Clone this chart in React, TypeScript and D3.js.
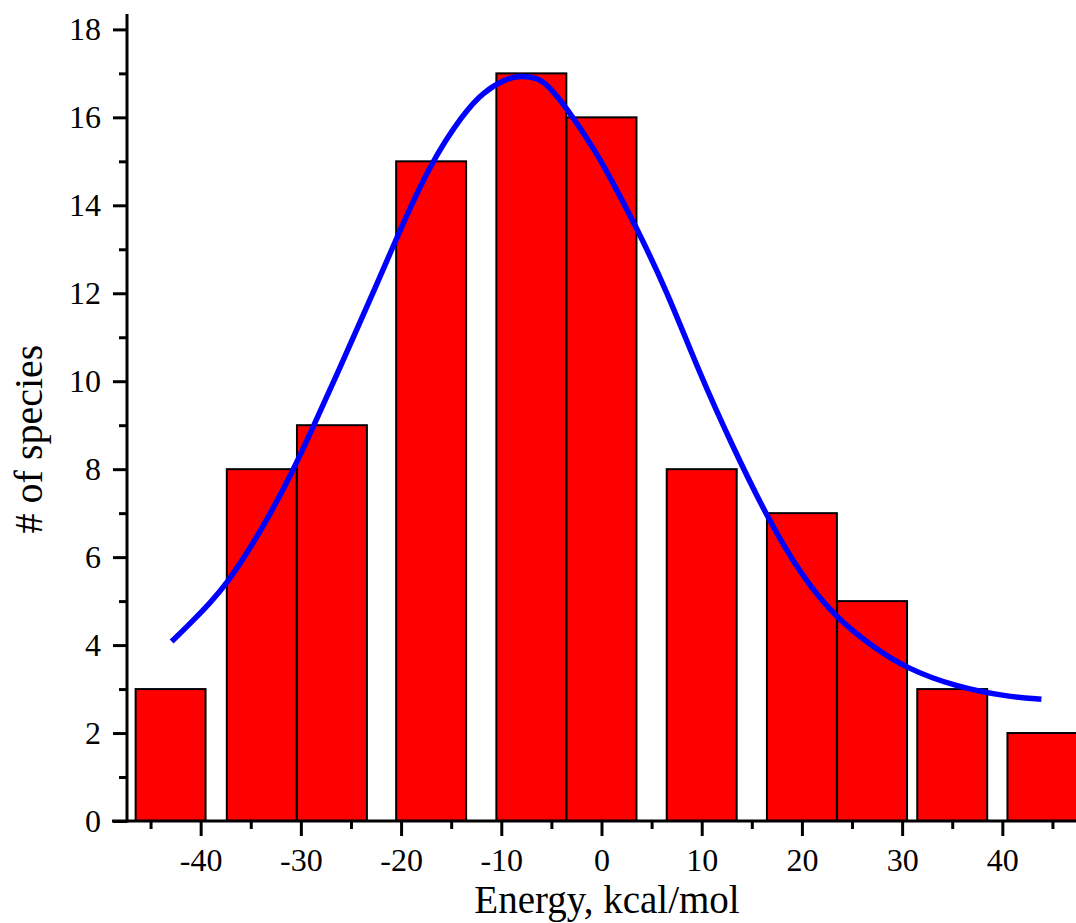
import * as d3 from "d3";
import {useEffect, useRef} from "react";

// histogram bins (centre of each bar, kcal/mol) and counts
const binCenters = [-43, -33.9, -26.9, -17, -7, 0, 10, 20, 27, 35, 44];
const binCounts = [3, 8, 9, 15, 17, 16, 8, 7, 5, 3, 2];
const binWidth = 6.98;

// fitted curve, points
const fitX = [-42.9, -40.7, -39.1, -37.4, -35.4, -33.4, -30.8, -28.8, -26.8, -22.1, -20.4, -17.1, -13.8, -11.8, -9.5, -8.1, -6.5, -5.5, -3.5, -0.5, 1.0, 3.3, 6.5, 9.8, 13.1, 16.5, 19.8, 23.4, 27.1, 30.4, 35.4, 40.4, 43.9];
const fitY = [4.08, 4.57, 4.95, 5.4, 6.08, 6.84, 7.95, 8.95, 9.95, 12.37, 13.28, 14.95, 16.08, 16.58, 16.88, 16.95, 16.9, 16.77, 16.23, 15.2, 14.57, 13.58, 12.07, 10.17, 8.51, 6.92, 5.63, 4.61, 3.96, 3.47, 3.05, 2.83, 2.77];

const xMajor = [-40, -30, -20, -10, 0, 10, 20, 30, 40];
const xMinor = [-45, -35, -25, -15, -5, 5, 15, 25, 35, 45];
const yMajor = [0, 2, 4, 6, 8, 10, 12, 14, 16, 18];
const yMinor = [1, 3, 5, 7, 9, 11, 13, 15, 17];

const W = 1076, H = 923;
const FONT = "'Liberation Serif', 'Times New Roman', serif";

function Histogram() {
    const svgRef = useRef<SVGSVGElement | null>(null);

    useEffect(() => {
        const svg = d3.select(svgRef.current);
        svg.selectAll("*").remove();

        const x = d3.scaleLinear().domain([-47.35, 47.35]).range([127, 1076]);
        const y = d3.scaleLinear().domain([0, 18.35]).range([821, 14]);

        svg.append("rect").attr("width", W).attr("height", H).attr("fill", "#fff");

        // bars
        svg.append("g")
            .selectAll("rect")
            .data(binCenters.map((c, i) => ({c, v: binCounts[i]})))
            .enter()
            .append("rect")
            .attr("x", d => x(d.c - binWidth / 2))
            .attr("y", d => y(d.v))
            .attr("width", d => x(d.c + binWidth / 2) - x(d.c - binWidth / 2))
            .attr("height", d => y(0) - y(d.v))
            .attr("fill", "#ff0000")
            .attr("stroke", "#000")
            .attr("stroke-width", 2);

        // fit line
        const line = d3.line<number>()
            .x((d, i) => x(fitX[i]))
            .y(d => y(d))
            .curve(d3.curveBasis);
        svg.append("path")
            .attr("d", line(fitY))
            .attr("fill", "none")
            .attr("stroke", "#0000ff")
            .attr("stroke-width", 5.5);

        const fmt = (d: any) => String(d); // plain hyphen, as in the original

        // x axis
        const gx = svg.append("g").attr("transform", `translate(0,${y(0)})`);
        gx.call(d3.axisBottom(x).tickValues(xMajor).tickSize(15).tickPadding(12).tickSizeOuter(0).tickFormat(fmt));
        gx.append("g").call(d3.axisBottom(x).tickValues(xMinor).tickSize(8).tickFormat(() => "").tickSizeOuter(0));
        gx.selectAll(".domain").remove();
        gx.append("line").attr("x1", 112).attr("x2", W).attr("stroke", "#000").attr("stroke-width", 3);

        // y axis
        const gy = svg.append("g").attr("transform", `translate(${x.range()[0]},0)`);
        gy.call(d3.axisLeft(y).tickValues(yMajor).tickSize(14).tickPadding(12).tickSizeOuter(0).tickFormat(fmt));
        gy.append("g").call(d3.axisLeft(y).tickValues(yMinor).tickSize(8).tickFormat(() => "").tickSizeOuter(0));
        gy.selectAll(".domain").remove();
        gy.append("line").attr("y1", y(0) + 1.5).attr("y2", y.range()[1]).attr("stroke", "#000").attr("stroke-width", 3);

        svg.selectAll(".tick line").attr("stroke", "#000").attr("stroke-width", 3);
        svg.selectAll(".tick text")
            .attr("fill", "#000")
            .style("font-family", FONT)
            .style("font-size", "32px");

        // titles
        svg.append("text")
            .attr("x", 607)
            .attr("y", 913)
            .attr("text-anchor", "middle")
            .style("font-family", FONT)
            .style("font-size", "39px")
            .text("Energy, kcal/mol");

        svg.append("text")
            .attr("transform", "translate(42,439) rotate(-90)")
            .attr("text-anchor", "middle")
            .style("font-family", FONT)
            .style("font-size", "40px")
            .text("# of species");
    }, []);

    return (
        <div style={{position: "absolute", left: 0, top: 0}}>
            <svg ref={svgRef} width={W} height={H} style={{display: "block"}}></svg>
        </div>
    );
}

export default function App() {
    return <Histogram/>;
}
